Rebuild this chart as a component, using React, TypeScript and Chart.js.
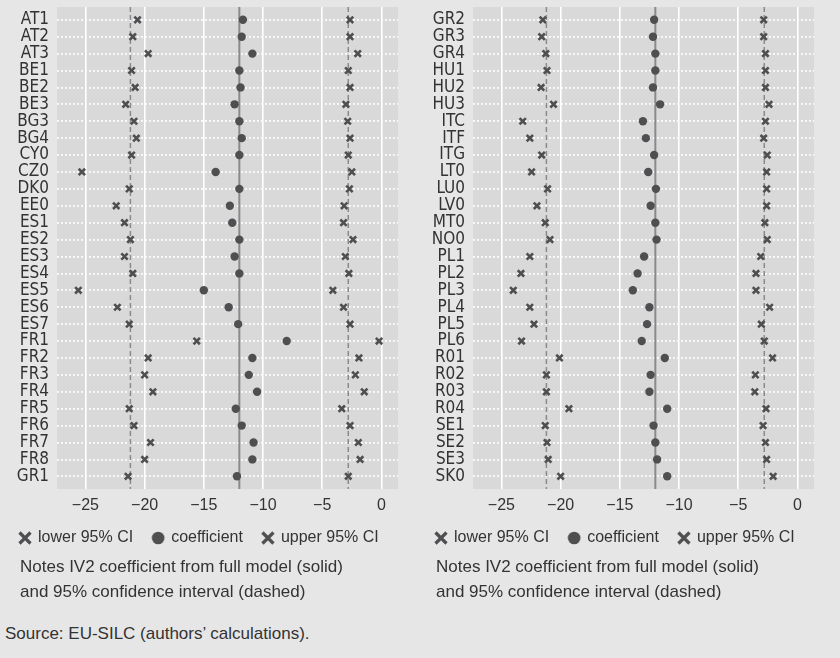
import React, { useEffect, useRef } from "react";
import { Chart, registerables } from "chart.js";

Chart.register(...registerables);

// ---------- data ----------
const leftCategories = ["AT1", "AT2", "AT3", "BE1", "BE2", "BE3", "BG3", "BG4", "CY0", "CZ0", "DK0", "EE0", "ES1", "ES2", "ES3", "ES4", "ES5", "ES6", "ES7", "FR1", "FR2", "FR3", "FR4", "FR5", "FR6", "FR7", "FR8", "GR1"];
const leftLower = [-20.6, -21.0, -19.7, -21.1, -20.8, -21.6, -20.9, -20.7, -21.1, -25.3, -21.3, -22.4, -21.7, -21.2, -21.7, -21.0, -25.6, -22.3, -21.3, -15.6, -19.7, -20.0, -19.3, -21.3, -20.9, -19.5, -20.0, -21.4];
const leftCoef = [-11.7, -11.8, -10.9, -12.0, -11.9, -12.4, -12.0, -11.8, -12.0, -14.0, -12.0, -12.8, -12.6, -12.0, -12.4, -12.0, -15.0, -12.9, -12.1, -8.0, -10.9, -11.2, -10.5, -12.3, -11.8, -10.8, -10.9, -12.2];
const leftUpper = [-2.65, -2.65, -2.0, -2.8, -2.65, -3.0, -2.85, -2.65, -2.8, -2.5, -2.7, -3.15, -3.2, -2.4, -3.05, -2.75, -4.1, -3.2, -2.65, -0.2, -1.9, -2.2, -1.45, -3.35, -2.65, -1.95, -1.8, -2.8];

const rightCategories = ["GR2", "GR3", "GR4", "HU1", "HU2", "HU3", "ITC", "ITF", "ITG", "LT0", "LU0", "LV0", "MT0", "NO0", "PL1", "PL2", "PL3", "PL4", "PL5", "PL6", "R01", "R02", "R03", "R04", "SE1", "SE2", "SE3", "SK0"];
const rightLower = [-21.5, -21.6, -21.25, -21.15, -21.65, -20.6, -23.2, -22.6, -21.6, -22.45, -21.1, -22.0, -21.3, -20.9, -22.6, -23.35, -24.0, -22.6, -22.25, -23.3, -20.1, -21.2, -21.2, -19.3, -21.3, -21.15, -21.05, -20.0];
const rightCoef = [-12.1, -12.2, -12.0, -12.0, -12.2, -11.6, -13.05, -12.8, -12.1, -12.6, -11.95, -12.4, -12.0, -11.9, -12.95, -13.5, -13.9, -12.5, -12.7, -13.15, -11.2, -12.4, -12.5, -11.0, -12.15, -12.0, -11.85, -11.0];
const rightUpper = [-2.85, -2.85, -2.7, -2.7, -2.7, -2.4, -2.7, -2.85, -2.55, -2.6, -2.6, -2.6, -2.75, -2.55, -3.1, -3.5, -3.5, -2.35, -3.05, -2.8, -2.1, -3.55, -3.6, -2.65, -2.9, -2.7, -2.6, -2.05];

const fullModelCoef = -12.0;
const fullModelLower = -21.2;
const fullModelUpper = -2.8;
const xTicks = [-25, -20, -15, -10, -5, 0];
const xMin = -27.4;
const xMax = 1.4;

const seriesLabels = ["lower 95% CI", "coefficient", "upper 95% CI"];
const notesLines = ["Notes IV2 coefficient from full model (solid)", "and 95% confidence interval (dashed)"];
const sourceText = "Source: EU-SILC (authors’ calculations).";

// ---------- styles ----------
const PAGE_BG = "#e6e6e7";
const PLOT_BG = "#d9d9da";
const INK = "#333333";
const MARK = "#4f4f51";
const REF = "#8a8a8c";
const FONT = "'Liberation Sans', Arial, sans-serif";
const NARROW = "'Liberation Sans Narrow', 'DejaVu Sans Condensed', 'Liberation Sans', sans-serif";

function makeMarker(kind: string): HTMLCanvasElement {
  const c = document.createElement("canvas");
  c.width = 14;
  c.height = 14;
  const ctx = c.getContext("2d")!;
  ctx.fillStyle = MARK;
  ctx.strokeStyle = MARK;
  if (kind === "circle") {
    ctx.beginPath();
    ctx.arc(7, 7, 6.3, 0, Math.PI * 2);
    ctx.fill();
  } else {
    ctx.lineWidth = 3.2;
    ctx.beginPath();
    ctx.moveTo(1.5, 1.5);
    ctx.lineTo(12.5, 12.5);
    ctx.moveTo(12.5, 1.5);
    ctx.lineTo(1.5, 12.5);
    ctx.stroke();
  }
  return c;
}

const bgPlugin = {
  id: "plotBg",
  beforeDraw(chart: any) {
    const { ctx, chartArea } = chart;
    ctx.save();
    ctx.fillStyle = PLOT_BG;
    ctx.fillRect(chartArea.left, chartArea.top, chartArea.right - chartArea.left, chartArea.bottom - chartArea.top);
    ctx.restore();
  },
};

function Panel(props: { categories: string[]; lower: number[]; coef: number[]; upper: number[]; left: number }) {
  const ref = useRef<HTMLCanvasElement>(null);
  useEffect(() => {
    const { categories, lower, coef, upper } = props;
    const n = categories.length;
    const yMin = -0.75;
    const yMax = n - 0.25;
    const markers = [makeMarker("x"), makeMarker("circle"), makeMarker("x")];
    const refLine = (v: number, dashed: boolean) => ({
      type: "line",
      label: "",
      isRef: true,
      data: [
        { x: v, y: yMin },
        { x: v, y: yMax },
      ],
      borderColor: REF,
      borderWidth: dashed ? 1.5 : 2,
      borderDash: dashed ? [5, 3] : [],
      pointRadius: 0,
      showLine: true,
      fill: false,
      order: 10,
    });
    const pts = (arr: number[]) => arr.map((v, i) => ({ x: v, y: i }));
    const noPad = (s: any) => {
      s.paddingTop = 0;
      s.paddingBottom = 0;
      s.paddingLeft = 0;
      s.paddingRight = 0;
    };
    const chart = new Chart(ref.current!, {
      type: "scatter",
      data: {
        datasets: [
          {
            label: seriesLabels[0],
            data: pts(lower),
            pointStyle: "crossRot",
            pointRadius: 4.5,
            borderWidth: 2.6,
            borderColor: MARK,
            backgroundColor: MARK,
            order: 1,
          },
          {
            label: seriesLabels[1],
            data: pts(coef),
            pointStyle: "circle",
            pointRadius: 4.2,
            borderWidth: 0,
            borderColor: MARK,
            backgroundColor: MARK,
            order: 1,
          },
          {
            label: seriesLabels[2],
            data: pts(upper),
            pointStyle: "crossRot",
            pointRadius: 4.5,
            borderWidth: 2.6,
            borderColor: MARK,
            backgroundColor: MARK,
            order: 1,
          },
          refLine(fullModelLower, true),
          refLine(fullModelCoef, false),
          refLine(fullModelUpper, true),
        ] as any,
      },
      options: {
        animation: false,
        responsive: false,
        devicePixelRatio: 1,
        layout: { padding: { left: 0, right: 0, top: 4, bottom: 0 } },
        scales: {
          x: {
            type: "linear",
            min: xMin,
            max: xMax,
            afterBuildTicks: (s: any) => {
              s.ticks = xTicks.map((v) => ({ value: v }));
            },
            afterFit: (s: any) => {
              s.height = 21;
              noPad(s);
            },
            ticks: {
              callback: (v: any) => (Number(v) < 0 ? "−" + Math.abs(Number(v)) : String(v)),
              color: INK,
              font: { family: FONT, size: 16 },
              padding: 7,
              maxRotation: 0,
              autoSkip: false,
            },
            grid: { color: "#ffffff", lineWidth: 1.6, drawTicks: false },
            border: { display: false },
          },
          y: {
            type: "linear",
            reverse: true,
            min: yMin,
            max: yMax,
            afterBuildTicks: (s: any) => {
              s.ticks = categories.map((_, i) => ({ value: i }));
            },
            afterFit: (s: any) => {
              s.width = 57;
              noPad(s);
            },
            ticks: {
              callback: (v: any) => categories[Number(v)] ?? "",
              color: INK,
              font: { family: NARROW, size: 17 },
              padding: 8,
              autoSkip: false,
            },
            grid: { color: "#fafafa", lineWidth: 1.8, drawTicks: false },
            border: { display: false, dash: [2, 2] },
          },
          spacer: {
            type: "linear",
            position: "right",
            display: true,
            min: 0,
            max: 1,
            ticks: { display: false },
            grid: { display: false, drawTicks: false },
            border: { display: false },
            afterFit: (s: any) => {
              s.width = 18;
              noPad(s);
            },
          },
        },
        plugins: {
          legend: {
            position: "bottom",
            align: "start",
            labels: {
              usePointStyle: true,
              boxWidth: 10,
              boxHeight: 10,
              padding: 20,
              color: INK,
              font: { family: FONT, size: 16 },
              generateLabels: (ch: any) =>
                ch.data.datasets
                  .map((ds: any, i: number) => ({
                    text: ds.label,
                    datasetIndex: i,
                    pointStyle: markers[i],
                    fillStyle: MARK,
                    strokeStyle: MARK,
                    lineWidth: 0,
                    hidden: false,
                    fontColor: INK,
                  }))
                  .filter((it: any, i: number) => !ch.data.datasets[i].isRef),
            },
          },
          tooltip: { enabled: false },
        },
      } as any,
      plugins: [bgPlugin],
    });
    return () => chart.destroy();
  }, []);
  return (
    <canvas
      ref={ref}
      width={416}
      height={556}
      style={{ position: "absolute", left: props.left, top: 0, display: "block" }}
    />
  );
}

function Notes(props: { left: number }) {
  return (
    <div
      style={{
        position: "absolute",
        left: props.left,
        top: 555,
        fontFamily: FONT,
        fontSize: 17,
        lineHeight: "24.6px",
        color: INK,
        whiteSpace: "nowrap",
      }}
    >
      {notesLines.map((l, i) => (
        <div key={i}>{l}</div>
      ))}
    </div>
  );
}

export default function App() {
  return (
    <div
      style={{
        position: "fixed",
        left: 0,
        top: 0,
        width: 840,
        height: 658,
        background: PAGE_BG,
        overflow: "hidden",
      }}
    >
      <Panel categories={leftCategories} lower={leftLower} coef={leftCoef} upper={leftUpper} left={0} />
      <Panel categories={rightCategories} lower={rightLower} coef={rightCoef} upper={rightUpper} left={416} />
      <Notes left={20} />
      <Notes left={436} />
      <div
        style={{
          position: "absolute",
          left: 5,
          top: 622,
          fontFamily: FONT,
          fontSize: 17,
          lineHeight: "24px",
          color: INK,
          whiteSpace: "nowrap",
        }}
      >
        {sourceText}
      </div>
    </div>
  );
}
